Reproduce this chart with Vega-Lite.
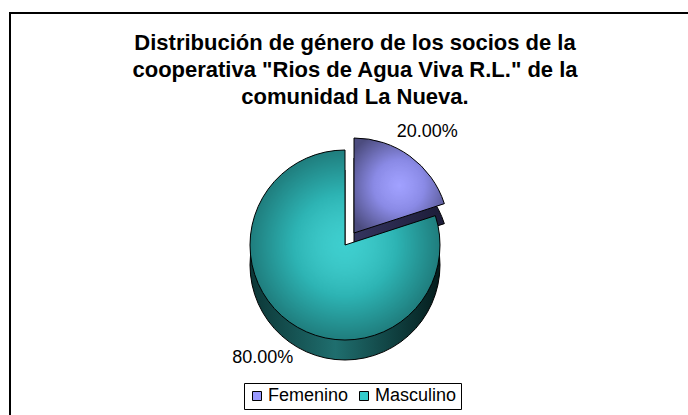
{
  "$schema": "https://vega.github.io/schema/vega-lite/v6.json",
  "autosize": {"type": "none"},
  "padding": {"left": 10, "top": 13, "right": 0, "bottom": 0},
  "width": 690,
  "height": 410,
  "background": "white",
  "view": {"stroke": "#000000", "strokeWidth": 2, "fill": "white"},
  "title": {
    "text": ["Distribución de género de los socios de la", "cooperativa \"Rios de Agua Viva R.L.\" de la", "comunidad La Nueva."],
    "font": "Liberation Sans",
    "fontSize": 22,
    "fontWeight": "bold",
    "lineHeight": 27,
    "anchor": "middle",
    "baseline": "top",
    "offset": -96,
    "color": "#000000"
  },
  "data": {
    "values": [
      {"genero": "Femenino", "valor": 0.2},
      {"genero": "Masculino", "valor": 0.8}
    ]
  },
  "transform": [
    {"stack": "valor", "groupby": [], "sort": [{"field": "genero", "order": "ascending"}], "as": ["v0", "v1"]}
  ],
  "layer": [
    {
      "transform": [{"filter": "datum.genero === 'Femenino'"}],
      "mark": {"type": "arc", "radius": 95, "xOffset": -1, "yOffset": 35, "stroke": "#000000", "strokeWidth": 1,
        "fill": {"gradient": "linear", "x1": 0, "y1": 0, "x2": 1, "y2": 0, "stops": [{"offset": 0, "color": "#34345e"}, {"offset": 1, "color": "#1c1c38"}]}},
      "encoding": {
        "theta": {"field": "v0", "type": "quantitative", "scale": {"domain": [0, 1]}},
        "theta2": {"field": "v1"}
      }
    },
    {
      "transform": [{"filter": "datum.genero === 'Femenino'"}],
      "mark": {"type": "arc", "radius": 95, "xOffset": -1, "yOffset": 15, "strokeWidth": 0},
      "encoding": {
        "theta": {"field": "v0", "type": "quantitative", "scale": {"domain": [0, 1]}},
        "theta2": {"field": "v1"},
        "color": {"field": "genero", "type": "nominal", "scale": {"domain": ["Femenino", "Masculino"], "range": ["#9999FF", "#33CCCC"]}, "legend": {"title": null}}
      }
    },
    {
      "transform": [{"filter": "datum.genero === 'Femenino'"}],
      "mark": {"type": "arc", "radius": 95, "xOffset": -1, "yOffset": 15, "stroke": "#000000", "strokeWidth": 1,
        "fill": {"gradient": "radial", "x1": 0.5, "y1": 0.5, "r1": 0, "x2": 0.5, "y2": 0.5, "r2": 0.6, "stops": [{"offset": 0, "color": "rgba(255,255,255,0.08)"}, {"offset": 0.45, "color": "rgba(0,0,0,0.1)"}, {"offset": 1, "color": "rgba(0,0,0,0.5)"}]}},
      "encoding": {
        "theta": {"field": "v0", "type": "quantitative", "scale": {"domain": [0, 1]}},
        "theta2": {"field": "v1"}
      }
    },
    {
      "transform": [{"filter": "datum.genero === 'Masculino'"}],
      "mark": {"type": "arc", "radius": 95, "xOffset": -10, "yOffset": 47, "stroke": "#000000", "strokeWidth": 1,
        "fill": {"gradient": "linear", "x1": 0, "y1": 0, "x2": 1, "y2": 0, "stops": [{"offset": 0, "color": "#0c3636"}, {"offset": 0.45, "color": "#1f6e6e"}, {"offset": 1, "color": "#041c1c"}]}},
      "encoding": {
        "theta": {"field": "v0", "type": "quantitative", "scale": {"domain": [0, 1]}},
        "theta2": {"field": "v1"}
      }
    },
    {
      "transform": [{"filter": "datum.genero === 'Masculino'"}],
      "mark": {"type": "arc", "radius": 95, "xOffset": -10, "yOffset": 27, "strokeWidth": 0},
      "encoding": {
        "theta": {"field": "v0", "type": "quantitative", "scale": {"domain": [0, 1]}},
        "theta2": {"field": "v1"},
        "color": {"field": "genero", "type": "nominal", "scale": {"domain": ["Femenino", "Masculino"], "range": ["#9999FF", "#33CCCC"]}, "legend": {"title": null}}
      }
    },
    {
      "transform": [{"filter": "datum.genero === 'Masculino'"}],
      "mark": {"type": "arc", "radius": 95, "xOffset": -10, "yOffset": 27, "stroke": "#000000", "strokeWidth": 1,
        "fill": {"gradient": "radial", "x1": 0.5, "y1": 0.5, "r1": 0, "x2": 0.5, "y2": 0.5, "r2": 0.6, "stops": [{"offset": 0, "color": "rgba(255,255,255,0.05)"}, {"offset": 0.45, "color": "rgba(0,0,0,0.12)"}, {"offset": 1, "color": "rgba(0,0,0,0.5)"}]}},
      "encoding": {
        "theta": {"field": "v0", "type": "quantitative", "scale": {"domain": [0, 1]}},
        "theta2": {"field": "v1"}
      }
    },
    {
      "mark": {"type": "text", "radius": 140, "xOffset": -10, "yOffset": 27, "font": "Liberation Sans", "fontSize": 18, "color": "#000000"},
      "encoding": {
        "theta": {"field": "valor", "type": "quantitative", "stack": true, "scale": {"domain": [0, 1]}},
        "text": {"field": "valor", "type": "quantitative", "format": ".2%"}
      }
    }
  ],
  "config": {
    "legend": {
      "orient": "none",
      "legendX": 234,
      "legendY": 370,
      "direction": "horizontal",
      "columns": 2,
      "strokeColor": "#000000",
      "fillColor": "#ffffff",
      "padding": 4,
      "labelFont": "Liberation Sans",
      "labelFontSize": 18,
      "labelColor": "#000000",
      "labelOffset": 2,
      "columnPadding": 6,
      "symbolType": "square",
      "symbolSize": 81,
      "symbolStrokeColor": "#000000",
      "symbolStrokeWidth": 1,
      "symbolOpacity": 1
    }
  }
}
